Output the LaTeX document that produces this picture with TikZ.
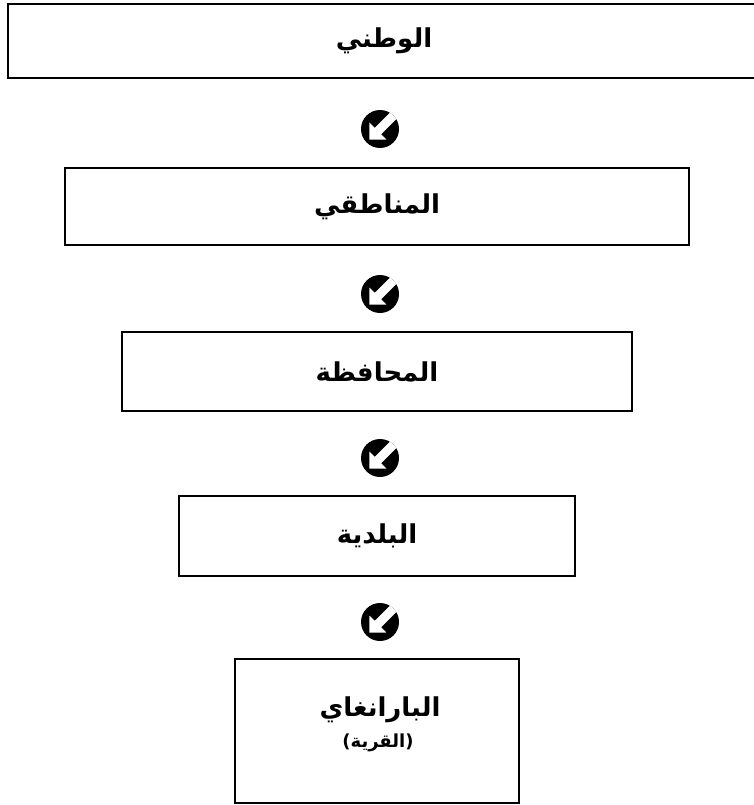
\documentclass[tikz,border=0pt]{standalone}
\usepackage{fontspec}
\newfontfamily\arabicfont[Script=Arabic]{DejaVu Sans}
\TeXXeTstate=1
\tikzset{
  levelbox/.style={draw=black, line width=2pt, rectangle, inner sep=0pt,
    font=\arabicfont\bfseries\fontsize{26}{31}\selectfont},
  checkicon/.style={circle, fill=black, minimum size=38pt, inner sep=0pt,
    path picture={
      \fill[white, shift={(path picture bounding box.center)}]
        (18.03pt,24.4pt) -- (-5.30pt,1.06pt) -- (-10.61pt,6.36pt) -- (-10.61pt,-10.61pt)
        -- (6.36pt,-10.61pt) -- (1.06pt,-5.30pt) -- (24.4pt,18.03pt) -- cycle;
    }}
}
\begin{document}
\begin{tikzpicture}[x=1pt,y=-1pt]
\useasboundingbox (0,0) rectangle (754,805);
\clip (0,0) rectangle (754,805);
\node[levelbox, minimum width=752pt, minimum height=74pt] (b1) at (384,41) {\beginR الوطني\endR};
\node[levelbox, minimum width=624pt, minimum height=77pt] (b2) at (377,206.5) {\beginR المناطقي\endR};
\node[levelbox, minimum width=510pt, minimum height=79pt] (b3) at (377,371.5) {\beginR المحافظة\endR};
\node[levelbox, minimum width=396pt, minimum height=80pt] (b4) at (377,536) {\beginR البلدية\endR};
\node[levelbox, minimum width=284pt, minimum height=144pt] (b5) at (377,731) {};
\node[font=\arabicfont\bfseries\fontsize{26}{31}\selectfont, anchor=center] (t5) at (380,710) {\beginR البارانغاي\endR};
\node[font=\arabicfont\bfseries\fontsize{18}{22}\selectfont, anchor=center] (t5b) at (378,743) {\beginR(القرية)\endR};
\node[checkicon] (i1) at (380,129) {};
\node[checkicon] (i2) at (380,294) {};
\node[checkicon] (i3) at (380,458) {};
\node[checkicon] (i4) at (380,622) {};
\end{tikzpicture}
\end{document}
